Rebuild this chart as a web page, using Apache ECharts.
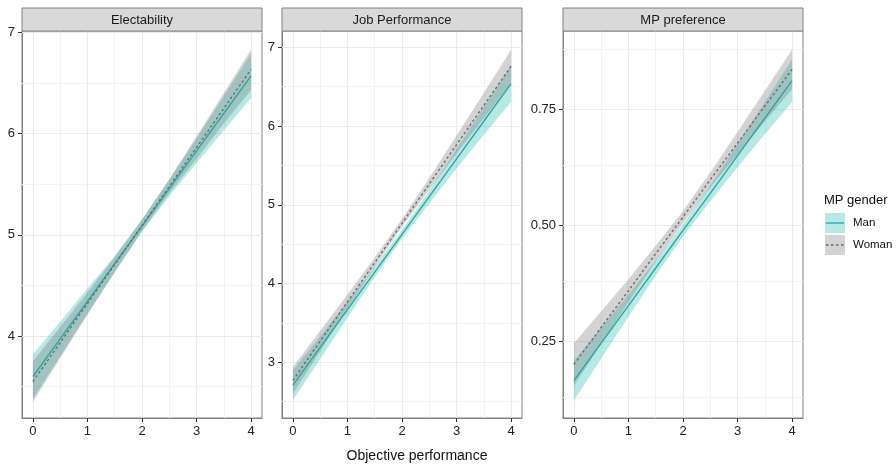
<!DOCTYPE html>
<html>
<head>
<meta charset="utf-8">
<script src="https://cdn.jsdelivr.net/npm/echarts@6/dist/echarts.min.js"></script>
<style>html,body{margin:0;padding:0;background:#fff}#c{width:896px;height:465px}</style>
</head>
<body>
<div id="c"></div>
<script>
// ---- data ----
const panelTitles = ['Electability', 'Job Performance', 'MP preference'];
const xs = [0, 0.5, 1, 1.5, 2, 2.5, 3, 3.5, 4];

const elecManFit = [3.600, 3.971, 4.343, 4.714, 5.085, 5.456, 5.828, 6.199, 6.570];
const elecManLo  = [3.38, 3.80, 4.22, 4.63, 5.03, 5.38, 5.71, 6.03, 6.35];
const elecManHi  = [3.82, 4.14, 4.47, 4.79, 5.15, 5.54, 5.95, 6.37, 6.79];
const elecWomanFit = [3.550, 3.936, 4.321, 4.707, 5.092, 5.478, 5.863, 6.249, 6.634];
const elecWomanLo  = [3.35, 3.78, 4.21, 4.63, 5.04, 5.41, 5.75, 6.10, 6.43];
const elecWomanHi  = [3.75, 4.09, 4.43, 4.78, 5.15, 5.55, 5.97, 6.40, 6.83];

const jobManFit = [2.710, 3.189, 3.668, 4.146, 4.625, 5.104, 5.583, 6.061, 6.540];
const jobManLo  = [2.52, 3.04, 3.57, 4.08, 4.57, 5.02, 5.46, 5.89, 6.31];
const jobManHi  = [2.90, 3.33, 3.77, 4.21, 4.68, 5.18, 5.71, 6.24, 6.77];
const jobWomanFit = [2.770, 3.269, 3.768, 4.266, 4.765, 5.264, 5.763, 6.261, 6.760];
const jobWomanLo  = [2.60, 3.14, 3.68, 4.21, 4.72, 5.19, 5.65, 6.10, 6.55];
const jobWomanHi  = [2.94, 3.40, 3.86, 4.33, 4.82, 5.34, 5.88, 6.42, 6.97];

const prefManFit = [0.165, 0.246, 0.327, 0.408, 0.489, 0.569, 0.650, 0.731, 0.812];
const prefManLo  = [0.122, 0.213, 0.303, 0.392, 0.476, 0.552, 0.625, 0.696, 0.766];
const prefManHi  = [0.208, 0.279, 0.351, 0.424, 0.502, 0.586, 0.675, 0.766, 0.858];
const prefWomanFit = [0.200, 0.280, 0.359, 0.439, 0.518, 0.598, 0.677, 0.757, 0.836];
const prefWomanLo  = [0.154, 0.245, 0.334, 0.422, 0.505, 0.582, 0.653, 0.724, 0.793];
const prefWomanHi  = [0.246, 0.315, 0.384, 0.456, 0.531, 0.614, 0.701, 0.790, 0.879];

const xTicks = [0, 1, 2, 3, 4];
const xMinor = [0.5, 1.5, 2.5, 3.5];
const elecYTicks = [4, 5, 6, 7];
const elecYMinor = [3.5, 4.5, 5.5, 6.5];
const jobYTicks = [3, 4, 5, 6, 7];
const jobYMinor = [2.5, 3.5, 4.5, 5.5, 6.5];
const prefYTicks = [0.25, 0.5, 0.75];
const prefYMinor = [0.125, 0.375, 0.625, 0.875];

const legendTitle = 'MP gender';
const groupNames = ['Man', 'Woman'];
const xAxisTitle = 'Objective performance';

// ---- layout / style ----
const panels = [
  { left: 22, yMin: 3.19, yMax: 7.013, yTicks: elecYTicks, yMinor: elecYMinor, fmt: v => String(v),
    man: [elecManFit, elecManLo, elecManHi], woman: [elecWomanFit, elecWomanLo, elecWomanHi] },
  { left: 282, yMin: 2.293, yMax: 7.207, yTicks: jobYTicks, yMinor: jobYMinor, fmt: v => String(v),
    man: [jobManFit, jobManLo, jobManHi], woman: [jobWomanFit, jobWomanLo, jobWomanHi] },
  { left: 563, yMin: 0.0847, yMax: 0.9188, yTicks: prefYTicks, yMinor: prefYMinor, fmt: v => v.toFixed(2),
    man: [prefManFit, prefManLo, prefManHi], woman: [prefWomanFit, prefWomanLo, prefWomanHi] }
];
const TOP = 31, W = 240, H = 387;
const FONT = '"Liberation Sans", Arial, sans-serif';
const manLine = '#21A79D';
const manFill = 'rgba(33,185,175,0.33)';
const womanLine = '#666666';
const womanFill = 'rgba(110,110,110,0.30)';
const borderCol = '#808080';

const grids = [], xAxes = [], yAxes = [], series = [], graphics = [];

panels.forEach((p, i) => {
  grids.push({ left: p.left, top: TOP, width: W, height: H, show: true,
    borderColor: borderCol, borderWidth: 1, backgroundColor: '#fff' });
  xAxes.push({ type: 'value', gridIndex: i, min: -0.2, max: 4.2,
    axisLine: { show: true, onZero: false, lineStyle: { color: borderCol, width: 1 } },
    axisTick: { show: true, length: 4, customValues: xTicks, lineStyle: { color: '#333', width: 1 } },
    axisLabel: { customValues: xTicks, margin: 7, color: '#222', fontSize: 13, fontFamily: FONT },
    splitLine: { show: false } });
  yAxes.push({ type: 'value', gridIndex: i, min: p.yMin, max: p.yMax,
    axisLine: { show: true, onZero: false, lineStyle: { color: borderCol, width: 1 } },
    axisTick: { show: true, length: 4, customValues: p.yTicks, lineStyle: { color: '#333', width: 1 } },
    axisLabel: { customValues: p.yTicks, margin: 7, color: '#222', fontSize: 13, fontFamily: FONT, formatter: p.fmt },
    splitLine: { show: false } });

  // grid lines via markLine on invisible helper series
  const ml = [];
  xMinor.forEach(v => ml.push({ xAxis: v, lineStyle: { color: '#F2F2F2', width: 1, type: 'solid' } }));
  p.yMinor.forEach(v => ml.push({ yAxis: v, lineStyle: { color: '#F2F2F2', width: 1, type: 'solid' } }));
  xTicks.forEach(v => ml.push({ xAxis: v, lineStyle: { color: '#EBEBEB', width: 1.1, type: 'solid' } }));
  p.yTicks.forEach(v => ml.push({ yAxis: v, lineStyle: { color: '#EBEBEB', width: 1.1, type: 'solid' } }));
  series.push({ type: 'line', xAxisIndex: i, yAxisIndex: i, z: 1, silent: true,
    data: xs.map((x, k) => [x, p.man[0][k]]), showSymbol: false,
    lineStyle: { opacity: 0 },
    markLine: { z: 1, silent: true, symbol: ['none', 'none'], label: { show: false },
      lineStyle: { type: 'solid' },
      animation: false, emphasis: { disabled: true }, data: ml } });

  // ribbons
  [[p.man, manFill], [p.woman, womanFill]].forEach(([arr, fill], gi) => {
    series.push({ type: 'custom', xAxisIndex: i, yAxisIndex: i, z: 3 + gi, silent: true,
      data: xs.map((x, k) => [x, arr[1][k], arr[2][k]]),
      encode: { x: 0, y: [1, 2] },
      renderItem: (params, api) => {
        if (params.dataIndex !== 0) return null;
        const pts = [];
        for (let k = 0; k < xs.length; k++) pts.push(api.coord([xs[k], arr[2][k]]));
        for (let k = xs.length - 1; k >= 0; k--) pts.push(api.coord([xs[k], arr[1][k]]));
        return { type: 'polygon', shape: { points: pts }, style: { fill: fill, stroke: null } };
      } });
  });

  // fitted lines
  series.push({ type: 'line', name: groupNames[0], xAxisIndex: i, yAxisIndex: i, z: 6,
    data: xs.map((x, k) => [x, p.man[0][k]]), showSymbol: false, silent: true,
    lineStyle: { color: manLine, width: 1.3 } });
  series.push({ type: 'line', name: groupNames[1], xAxisIndex: i, yAxisIndex: i, z: 7,
    data: xs.map((x, k) => [x, p.woman[0][k]]), showSymbol: false, silent: true,
    lineStyle: { color: womanLine, width: 1.3, type: [2.5, 2.5] } });

  // strip header
  graphics.push({ type: 'rect', shape: { x: p.left, y: 8, width: W, height: TOP - 8 },
    style: { fill: '#D9D9D9', stroke: borderCol, lineWidth: 1 }, z: 10 });
  graphics.push({ type: 'text', x: p.left + W / 2, y: (8 + TOP) / 2 + 0.5,
    style: { text: panelTitles[i], fill: '#1a1a1a', font: '13px ' + FONT, align: 'center', verticalAlign: 'middle' }, z: 11 });
});

// x axis title
graphics.push({ type: 'text', x: 417, y: 456,
  style: { text: xAxisTitle, fill: '#111', font: '14px ' + FONT, align: 'center', verticalAlign: 'middle' } });

// legend
graphics.push({ type: 'text', x: 824, y: 200,
  style: { text: legendTitle, fill: '#111', font: '13px ' + FONT, align: 'left', verticalAlign: 'middle' } });
graphics.push({ type: 'rect', shape: { x: 825, y: 213, width: 20, height: 20 }, style: { fill: '#FFFFFF' } });
graphics.push({ type: 'rect', shape: { x: 825, y: 213, width: 20, height: 20 }, style: { fill: manFill } });
graphics.push({ type: 'line', shape: { x1: 826, y1: 223, x2: 844, y2: 223 }, style: { stroke: manLine, lineWidth: 1.3 } });
graphics.push({ type: 'text', x: 853, y: 223,
  style: { text: groupNames[0], fill: '#111', font: '11.5px ' + FONT, align: 'left', verticalAlign: 'middle' } });
graphics.push({ type: 'rect', shape: { x: 825, y: 235, width: 20, height: 20 }, style: { fill: womanFill } });
graphics.push({ type: 'line', shape: { x1: 826, y1: 245, x2: 844, y2: 245 }, style: { stroke: womanLine, lineWidth: 1.3, lineDash: [2.5, 2.5] } });
graphics.push({ type: 'text', x: 853, y: 245,
  style: { text: groupNames[1], fill: '#111', font: '11.5px ' + FONT, align: 'left', verticalAlign: 'middle' } });

const chart = echarts.init(document.getElementById('c'), null, { renderer: 'canvas' });
chart.setOption({
  animation: false,
  backgroundColor: '#fff',
  textStyle: { fontFamily: FONT },
  grid: grids, xAxis: xAxes, yAxis: yAxes, series: series,
  graphic: { elements: graphics }
});
</script>
</body>
</html>
